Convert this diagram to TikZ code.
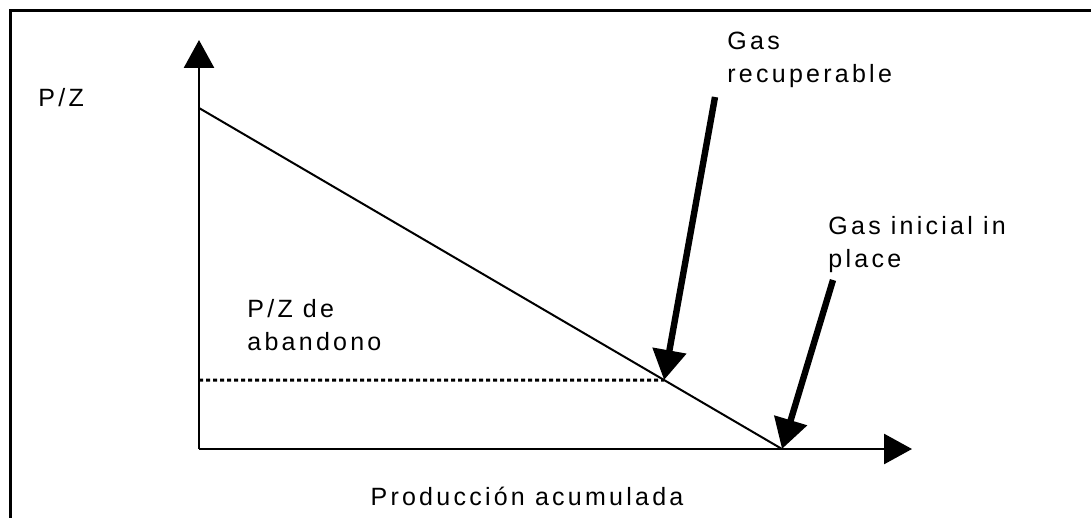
\documentclass[tikz,border=0pt]{standalone}
\usepackage{fontspec}
\setmainfont{Liberation Sans}[LetterSpace=13]
\usetikzlibrary{arrows.meta}

\begin{document}
\begin{tikzpicture}[x=0.5pt,y=-0.5pt,
  axis/.style={line width=1.4pt,-{Triangle[length=14pt,width=15pt]}},
  bigarrow/.style={line width=3.2pt,-{Triangle[length=15pt,width=16.5pt]}},
  txt/.style={inner sep=0pt,anchor=base west,align=left,font=\fontsize{12.5}{16.5}\selectfont}]
\useasboundingbox (0,0) rectangle (1091,518);
\draw[line width=1.5pt] (10,518) -- (10,11) -- (1091,11);
% axes
\coordinate (o) at (199,449);
\coordinate (ytop) at (199,40);
\coordinate (xend) at (912,449);
\draw[axis] (o) -- (ytop);
\draw[axis] (o) -- (xend);
% P/Z line
\coordinate (pzi) at (199,108);
\coordinate (gi) at (782,449);
\coordinate (pza) at (199,380);
\coordinate (pzr) at (1000,380);
\coordinate (gr) at (intersection of pzi--gi and pza--pzr);
\draw[line width=1pt] (pzi) -- (gi);
\draw[line width=1.5pt,dash pattern=on 2pt off 1.5pt] (pza) -- (gr);
% labels (base = last line)
\node[txt] (pz) at (38,107) {P/Z};
\node[txt] (rec) at (727,83) {Gas\\recuperable};
\node[txt] (ini) at (828,267) {Gas inicial in\\place};
\node[txt] (aba) at (247,350) {P/Z de\\abandono};
\node[txt,anchor=base] (prod) at (527,505) {Producción acumulada};
% arrows
\coordinate (a1) at (715,97);
\coordinate (a2) at (833,280);
\draw[bigarrow] (a1) -- (gr);
\draw[bigarrow] (a2) -- (gi);
\end{tikzpicture}
\end{document}
